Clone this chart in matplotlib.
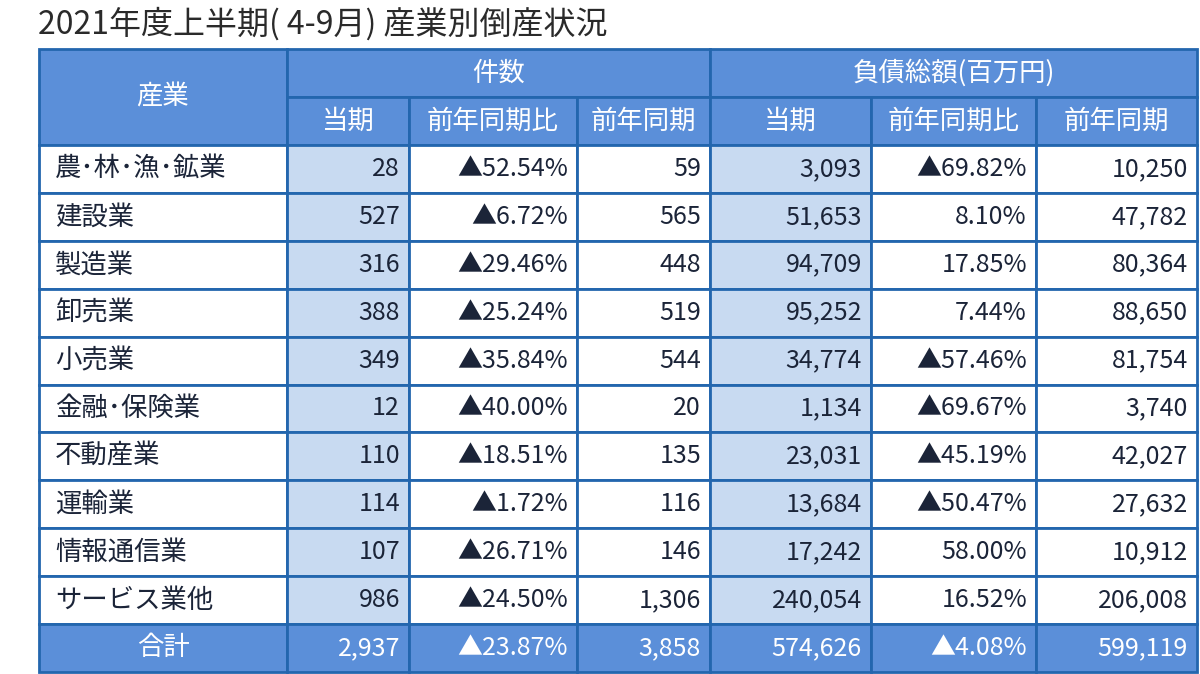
import matplotlib
matplotlib.use("Agg")
import matplotlib.pyplot as plt
from matplotlib.patches import Rectangle

plt.rcParams['font.family'] = ['Noto Sans CJK JP', 'DejaVu Sans']

title = "2021年度上半期( 4-9月) 産業別倒産状況"

industries = ["農･林･漁･鉱業", "建設業", "製造業", "卸売業", "小売業",
              "金融･保険業", "不動産業", "運輸業", "情報通信業", "サービス業他"]
count_now = ["28", "527", "316", "388", "349", "12", "110", "114", "107", "986"]
count_ratio = ["▲52.54%", "▲6.72%", "▲29.46%", "▲25.24%", "▲35.84%",
               "▲40.00%", "▲18.51%", "▲1.72%", "▲26.71%", "▲24.50%"]
count_prev = ["59", "565", "448", "519", "544", "20", "135", "116", "146", "1,306"]
debt_now = ["3,093", "51,653", "94,709", "95,252", "34,774",
            "1,134", "23,031", "13,684", "17,242", "240,054"]
debt_ratio = ["▲69.82%", "8.10%", "17.85%", "7.44%", "▲57.46%",
              "▲69.67%", "▲45.19%", "▲50.47%", "58.00%", "16.52%"]
debt_prev = ["10,250", "47,782", "80,364", "88,650", "81,754",
             "3,740", "42,027", "27,632", "10,912", "206,008"]
total_row = ["合計", "2,937", "▲23.87%", "3,858", "574,626", "▲4.08%", "599,119"]

group_headers = ["件数", "負債総額(百万円)"]
sub_headers = ["当期", "前年同期比", "前年同期"]

# layout (pixels)
col_edges = [39, 287, 409, 577, 710, 871, 1036, 1197]
head_top, head_mid, head_bot = 49, 97, 145
row_h = 47.9

hdr_blue = "#5B8FD9"
light_blue = "#C8DAF1"
border = "#2366AE"
txt = "#1B2438"

fig = plt.figure(figsize=(12, 6.74), dpi=100)
ax = fig.add_axes([0, 0, 1, 1])
ax.set_xlim(0, 1200)
ax.set_ylim(674, 0)
ax.axis("off")

ax.text(38, 24, title, fontsize=23, color="#2a2a2a", va="center", ha="left")


def cell(x0, x1, y0, y1, fc):
    ax.add_patch(Rectangle((x0, y0), x1 - x0, y1 - y0, facecolor=fc,
                           edgecolor=border, linewidth=2))


# header
cell(col_edges[0], col_edges[1], head_top, head_bot, hdr_blue)
ax.text((col_edges[0] + col_edges[1]) / 2, (head_top + head_bot) / 2, "産業",
        fontsize=19, color="white", ha="center", va="center")
for g, name in enumerate(group_headers):
    x0 = col_edges[1 + 3 * g]
    x1 = col_edges[4 + 3 * g]
    cell(x0, x1, head_top, head_mid, hdr_blue)
    ax.text((x0 + x1) / 2, (head_top + head_mid) / 2, name,
            fontsize=19, color="white", ha="center", va="center")
    for k, sh in enumerate(sub_headers):
        a = col_edges[1 + 3 * g + k]
        b = col_edges[2 + 3 * g + k]
        cell(a, b, head_mid, head_bot, hdr_blue)
        ax.text((a + b) / 2, (head_mid + head_bot) / 2, sh,
                fontsize=19, color="white", ha="center", va="center")

# body
columns = [count_now, count_ratio, count_prev, debt_now, debt_ratio, debt_prev]
for i, name in enumerate(industries):
    y0 = head_bot + i * row_h
    y1 = y0 + row_h
    yc = (y0 + y1) / 2
    cell(col_edges[0], col_edges[1], y0, y1, "white")
    ax.text(col_edges[0] + 16, yc, name, fontsize=19, color=txt,
            ha="left", va="center")
    for j, col in enumerate(columns):
        fc = light_blue if j in (0, 3) else "white"
        cell(col_edges[j + 1], col_edges[j + 2], y0, y1, fc)
        ax.text(col_edges[j + 2] - 9, yc, col[i], fontsize=18, color=txt,
                ha="right", va="center")

# total row
y0 = head_bot + len(industries) * row_h
y1 = y0 + row_h
yc = (y0 + y1) / 2
for j, val in enumerate(total_row):
    cell(col_edges[j], col_edges[j + 1], y0, y1, hdr_blue)
    if j == 0:
        ax.text((col_edges[0] + col_edges[1]) / 2, yc, val, fontsize=19,
                color="white", ha="center", va="center")
    else:
        ax.text(col_edges[j + 1] - 9, yc, val, fontsize=18, color="white",
                ha="right", va="center")

fig.savefig("out.png", dpi=100)
